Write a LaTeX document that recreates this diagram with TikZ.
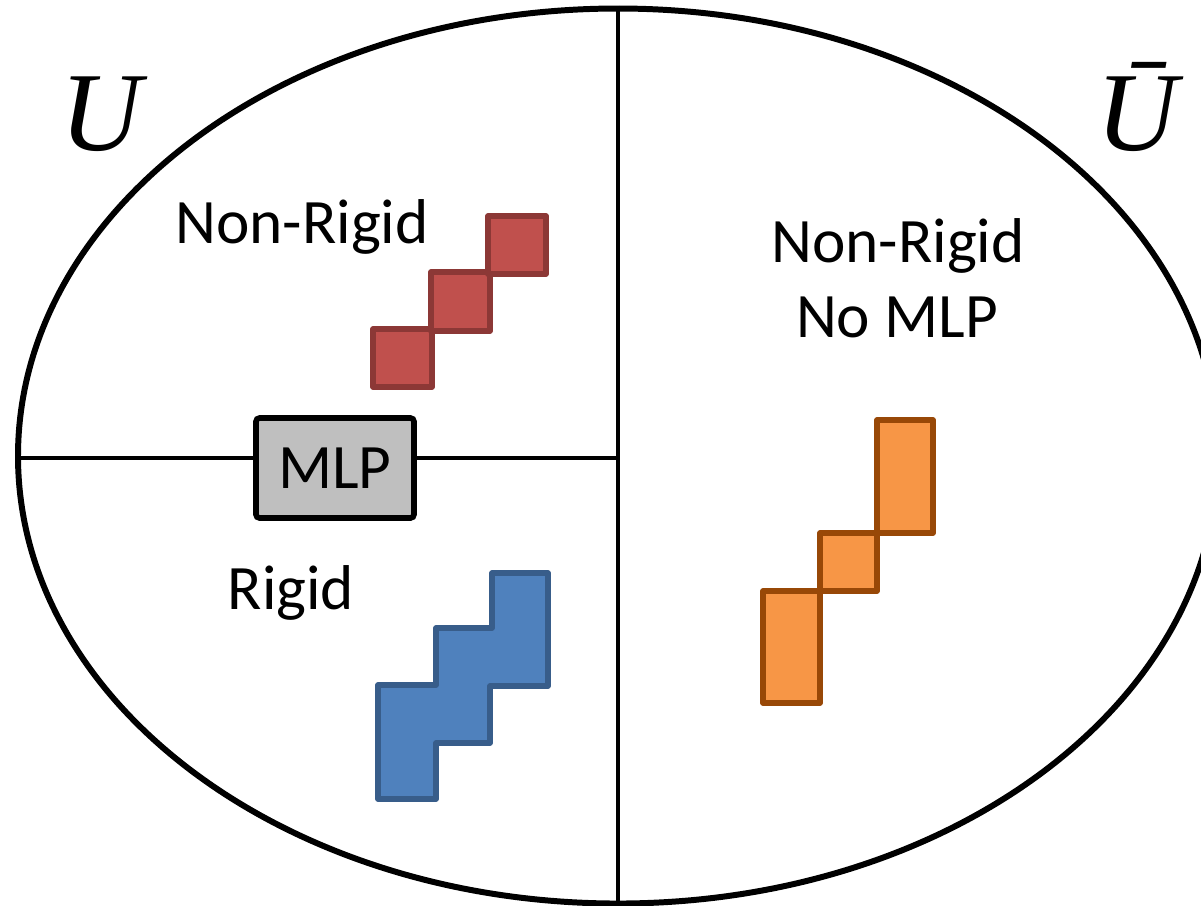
\documentclass[tikz,border=0pt]{standalone}
\usepackage{fontspec}
\setmainfont{Carlito}
\newfontfamily\setfont{Liberation Serif}
\usetikzlibrary{shapes.geometric}
\definecolor{redfill}{HTML}{C0504D}
\definecolor{redline}{HTML}{8C3836}
\definecolor{bluefill}{HTML}{4F81BD}
\definecolor{blueline}{HTML}{385D8A}
\definecolor{orangefill}{HTML}{F79646}
\definecolor{orangeline}{HTML}{984807}
\definecolor{mlpgray}{HTML}{BFBFBF}
\tikzset{
  divider/.style={line width=1.3pt, black},
  label/.style={font=\fontsize{18}{20}\selectfont, anchor=base, inner sep=0pt},
  setname/.style={font=\setfont\itshape\fontsize{32}{32}\selectfont, anchor=base, inner sep=0pt},
  redblock/.style={fill=redfill, draw=redline, line width=1.6pt, line join=round},
  blueblock/.style={fill=bluefill, draw=blueline, line width=1.6pt, line join=round},
  orangeblock/.style={fill=orangefill, draw=orangeline, line width=1.6pt, line join=round},
  mlpbox/.style={fill=mlpgray, draw=black, line width=1.6pt, rounded corners=1pt,
    minimum width=158*0.01cm, minimum height=100*0.01cm, inner sep=0pt,
    font=\fontsize{18}{20}\selectfont}
}
\begin{document}
\begin{tikzpicture}[x=0.01cm, y=-0.01cm]
\useasboundingbox (0,0) rectangle (1201,905);
\clip (0,0) rectangle (1201,905);

% the whole set, split into U and its complement
\node[ellipse, draw=black, line width=1.7pt, minimum width=1200*0.01cm,
      minimum height=895*0.01cm, inner sep=0pt] (set) at (618,456) {};
\draw[divider] (set.north) -- (set.south);

% U split into non-rigid and rigid parts by the MLP line
\node[mlpbox] (mlp) at (335,468) {MLP};
\coordinate (left) at (18,458);
\coordinate (mid) at (618,458);
\draw[divider] (left) -- (left -| mlp.west);
\draw[divider] (mid -| mlp.east) -- (mid);

% set names
\node[setname] (u) at (101,150) {U};
\node[setname] (ubar) at (1137,150) {Ū};

% region labels
\node[label] (nonrigid) at (302,243) {Non-Rigid};
\node[label] (rigid) at (291,609) {Rigid};
\node[label] (nonrigid2) at (898,262) {Non-Rigid};
\node[label] (nomlp) at (897,337) {No MLP};

% non-rigid staircase
\draw[redblock] (373,329) rectangle (432,387);
\draw[redblock] (431,272) rectangle (490,331);
\draw[redblock] (488,216) rectangle (546,274);

% rigid staircase
\draw[blueblock] (492,573) -- (548,573) -- (548,686) -- (490,686) -- (490,743)
  -- (436,743) -- (436,799) -- (378,799) -- (378,685) -- (436,685) -- (436,628)
  -- (492,628) -- cycle;

% staircase outside U
\draw[orangeblock] (877,420) rectangle (933,533);
\draw[orangeblock] (820,533) rectangle (877,591);
\draw[orangeblock] (763,591) rectangle (820,703);
\end{tikzpicture}
\end{document}
